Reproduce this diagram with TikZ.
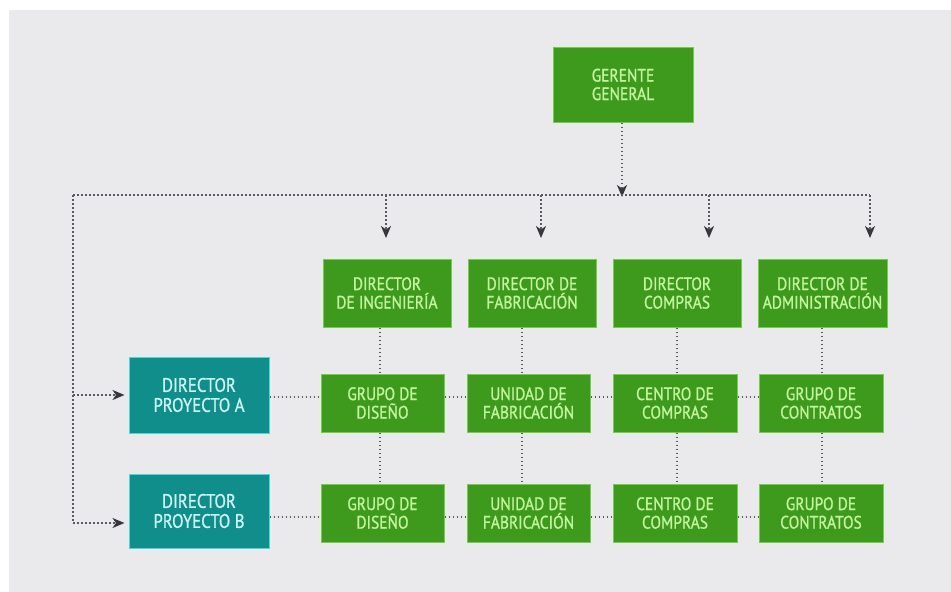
\documentclass[tikz,border=0pt]{standalone}
\usepackage{fontspec}
\setmainfont{PT Sans}[FakeStretch=0.86,FakeBold=1]
\usetikzlibrary{arrows.meta}
\definecolor{bg}{HTML}{EAEAEC}
\definecolor{gfill}{HTML}{3E9A1C}
\definecolor{gline}{HTML}{74CC4C}
\definecolor{gtext}{HTML}{C4F59E}
\definecolor{tfill}{HTML}{0F8E8C}
\definecolor{tline}{HTML}{4FD6D6}
\definecolor{ttext}{HTML}{CDF4F4}
\definecolor{dots}{HTML}{5A5A60}
\definecolor{tipc}{HTML}{38383C}
\tikzset{
  gbox/.style={draw=gline, line width=1pt, fill=gfill, text=gtext, align=center,
    inner sep=0pt, font=\fontsize{18}{18.5}\selectfont},
  tbox/.style={draw=tline, line width=1pt, fill=tfill, text=ttext, align=center,
    inner sep=0pt, font=\fontsize{19.5}{20}\selectfont},
  dotline/.style={draw=dots, line width=1.6pt, dash pattern=on 1.8pt off 2.2pt},
  arr/.style={dotline, -{Stealth[length=12pt,width=10pt,inset=3.5pt,color=tipc]}},
}
\begin{document}
\begin{tikzpicture}[x=1pt,y=-1pt]
\useasboundingbox (0,0) rectangle (951,592);
\fill[white] (0,0) rectangle (951,592);
\fill[bg] (9,10) rectangle (951,592);

% top
\node[gbox, minimum width=140pt, minimum height=75pt] (gg) at (623,84.5) {GERENTE\\GENERAL};

% row 1 directors
\node[gbox, minimum width=128pt, minimum height=68pt] (d1) at (387,293) {DIRECTOR\\DE INGENIERÍA};
\node[gbox, minimum width=128pt, minimum height=68pt] (d2) at (532,293) {DIRECTOR DE\\FABRICACIÓN};
\node[gbox, minimum width=128pt, minimum height=68pt] (d3) at (677,293) {DIRECTOR\\COMPRAS};
\node[gbox, minimum width=129pt, minimum height=68pt] (d4) at (822.5,293) {DIRECTOR DE\\ADMINISTRACIÓN};

% row 2
\node[gbox, minimum width=123pt, minimum height=58pt] (a1) at (382.5,403) {GRUPO DE\\DISEÑO};
\node[gbox, minimum width=123pt, minimum height=58pt] (a2) at (528.5,403) {UNIDAD DE\\FABRICACIÓN};
\node[gbox, minimum width=124pt, minimum height=58pt] (a3) at (675,403) {CENTRO DE\\COMPRAS};
\node[gbox, minimum width=124pt, minimum height=58pt] (a4) at (821,403) {GRUPO DE\\CONTRATOS};

% row 3
\node[gbox, minimum width=123pt, minimum height=58pt] (b1) at (382.5,513) {GRUPO DE\\DISEÑO};
\node[gbox, minimum width=123pt, minimum height=58pt] (b2) at (528.5,513) {UNIDAD DE\\FABRICACIÓN};
\node[gbox, minimum width=124pt, minimum height=58pt] (b3) at (675,513) {CENTRO DE\\COMPRAS};
\node[gbox, minimum width=124pt, minimum height=58pt] (b4) at (821,513) {GRUPO DE\\CONTRATOS};

% project directors
\node[tbox, minimum width=140pt, minimum height=76pt] (pa) at (199,395) {DIRECTOR\\PROYECTO A};
\node[tbox, minimum width=140pt, minimum height=74pt] (pb) at (199,511) {DIRECTOR\\PROYECTO B};

% coordinates
\coordinate (hl) at (73,195);
\coordinate (hr) at (870,195);
\coordinate (hm) at (622,195);
\coordinate (lb) at (73,523);
\coordinate (t1) at (386,238);
\coordinate (t2) at (541,238);
\coordinate (t3) at (709,238);
\coordinate (t4) at (870,238);
\coordinate (c1) at (380,0);
\coordinate (c2) at (522,0);
\coordinate (c3) at (677,0);
\coordinate (c4) at (822,0);
\coordinate (ya) at (0,397);
\coordinate (yb) at (0,517);

% connectors from top
\draw[arr] (gg.south -| hm) -- ([yshift=-2pt]hm);
\draw[dotline] (hl) -- (hr);
\draw[dotline] (hl) -- (lb);
\draw[arr] (hl |- pa.west) -- ([xshift=-4pt]pa.west);
\draw[arr] (lb) -- ([xshift=-4pt]pb.west |- lb);
\draw[arr] (t1 |- hl) -- (t1);
\draw[arr] (t2 |- hl) -- (t2);
\draw[arr] (t3 |- hl) -- (t3);
\draw[arr] (t4 |- hl) -- (t4);

% verticals
\draw[dotline] (d1.south -| c1) -- (a1.north -| c1);
\draw[dotline] (a1.south -| c1) -- (b1.north -| c1);
\draw[dotline] (d2.south -| c2) -- (a2.north -| c2);
\draw[dotline] (a2.south -| c2) -- (b2.north -| c2);
\draw[dotline] (d3.south -| c3) -- (a3.north -| c3);
\draw[dotline] (a3.south -| c3) -- (b3.north -| c3);
\draw[dotline] (d4.south -| c4) -- (a4.north -| c4);
\draw[dotline] (a4.south -| c4) -- (b4.north -| c4);

% horizontals row A
\draw[dotline] (pa.east |- ya) -- (a1.west |- ya);
\draw[dotline] (a1.east |- ya) -- (a2.west |- ya);
\draw[dotline] (a2.east |- ya) -- (a3.west |- ya);
\draw[dotline] (a3.east |- ya) -- (a4.west |- ya);
% horizontals row B
\draw[dotline] (pb.east |- yb) -- (b1.west |- yb);
\draw[dotline] (b1.east |- yb) -- (b2.west |- yb);
\draw[dotline] (b2.east |- yb) -- (b3.west |- yb);
\draw[dotline] (b3.east |- yb) -- (b4.west |- yb);
\end{tikzpicture}
\end{document}
